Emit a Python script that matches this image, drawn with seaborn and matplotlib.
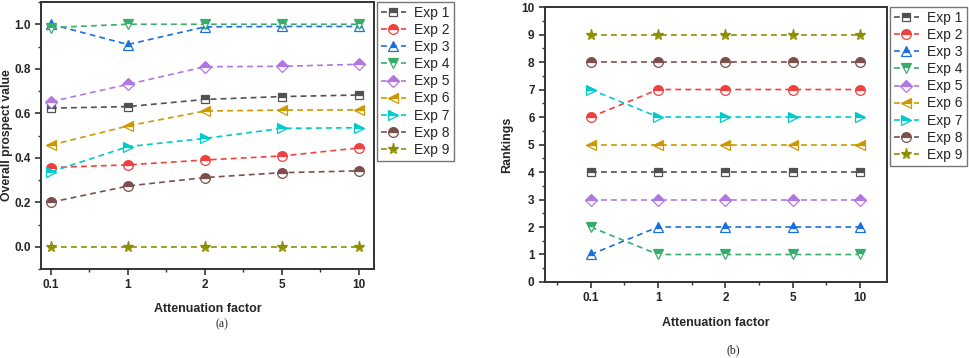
import numpy as np
import pandas as pd
import seaborn as sns
import matplotlib.pyplot as plt
from matplotlib.ticker import MultipleLocator

# 数据
factors = ['0.1', '1', '2', '5', '10']
exps = ['Exp 1', 'Exp 2', 'Exp 3', 'Exp 4', 'Exp 5', 'Exp 6', 'Exp 7', 'Exp 8', 'Exp 9']

# (a) overall prospect value
prospect_1 = [0.623, 0.630, 0.662, 0.675, 0.682]
prospect_2 = [0.356, 0.368, 0.390, 0.408, 0.444]
prospect_3 = [1.000, 0.909, 0.988, 0.990, 0.990]
prospect_4 = [0.985, 1.000, 1.000, 1.000, 1.000]
prospect_5 = [0.652, 0.730, 0.809, 0.811, 0.820]
prospect_6 = [0.457, 0.543, 0.610, 0.614, 0.615]
prospect_7 = [0.337, 0.450, 0.487, 0.532, 0.535]
prospect_8 = [0.200, 0.273, 0.311, 0.333, 0.341]
prospect_9 = [0.000, 0.000, 0.000, 0.000, 0.000]

# (b) rankings
rank_1 = [4, 4, 4, 4, 4]
rank_2 = [6, 7, 7, 7, 7]
rank_3 = [1, 2, 2, 2, 2]
rank_4 = [2, 1, 1, 1, 1]
rank_5 = [3, 3, 3, 3, 3]
rank_6 = [5, 5, 5, 5, 5]
rank_7 = [7, 6, 6, 6, 6]
rank_8 = [8, 8, 8, 8, 8]
rank_9 = [9, 9, 9, 9, 9]

prospects = [prospect_1, prospect_2, prospect_3, prospect_4, prospect_5,
             prospect_6, prospect_7, prospect_8, prospect_9]
ranks = [rank_1, rank_2, rank_3, rank_4, rank_5, rank_6, rank_7, rank_8, rank_9]

# Origin 默认配色
colors = ['#515151', '#F14040', '#1A6FDF', '#37AD6B', '#B177DE',
          '#CC9900', '#00CBCC', '#7D4E4E', '#8E8E00']
markers = ['s', 'o', '^', 'v', 'D', '<', '>', 'o', '*']
msizes = [6.0, 7.0, 7.0, 7.0, 6.0, 7.0, 7.0, 7.0, 8.0]


def make_long(values):
    rows = []
    for name, vals in zip(exps, values):
        for i, v in enumerate(vals):
            rows.append({'exp': name, 'pos': i, 'factor': factors[i], 'value': v})
    return pd.DataFrame(rows)


df_a = make_long(prospects)
df_b = make_long(ranks)

sns.set_style('white')
plt.rcParams['font.family'] = ['Liberation Sans', 'DejaVu Sans']

fig = plt.figure(figsize=(9.69, 3.58), dpi=100)
ax_a = fig.add_axes([0.0423, 0.2486, 0.3437, 0.7458])
ax_b = fig.add_axes([0.5624, 0.2123, 0.3530, 0.7681])


def draw(ax, df):
    for k, name in enumerate(exps):
        sub = df[df['exp'] == name]
        # 上半实心的标记
        sns.lineplot(data=sub, x='pos', y='value', ax=ax, color=colors[k],
                     linestyle=(0, (3.5, 2.5)), linewidth=1.2, marker=markers[k],
                     markersize=msizes[k], fillstyle='top', markerfacecoloralt='white',
                     markeredgecolor=colors[k], markeredgewidth=0.9, label=name)
    ax.set_xticks(range(len(factors)))
    ax.set_xticklabels(factors)
    ax.xaxis.set_minor_locator(MultipleLocator(0.5))
    for s in ax.spines.values():
        s.set_color('#333333')
        s.set_linewidth(1.4)
    ax.tick_params(axis='both', which='major', direction='out', length=4, width=1.2,
                   color='#333333', labelsize=8.5, bottom=True, left=True)
    ax.tick_params(axis='both', which='minor', direction='out', length=2.5, width=1.0,
                   color='#333333', bottom=True, left=True)
    for lab in ax.get_xticklabels() + ax.get_yticklabels():
        lab.set_fontweight('bold')
    leg = ax.legend(loc='upper left', bbox_to_anchor=(1.008, 1.0), borderaxespad=0,
                    fontsize=10, frameon=True, fancybox=False, handlelength=1.8,
                    handletextpad=0.6, labelspacing=0.22, borderpad=0.3)
    leg.get_frame().set_edgecolor('#555555')
    leg.get_frame().set_linewidth(1.0)


draw(ax_a, df_a)
ax_a.set_xlim(-0.13, 4.2)
ax_a.set_ylim(-0.1, 1.1)
ax_a.yaxis.set_major_locator(MultipleLocator(0.2))
ax_a.yaxis.set_minor_locator(MultipleLocator(0.1))
ax_a.set_yticklabels([f'{t:.1f}' for t in ax_a.get_yticks()], fontweight='bold')
ax_a.set_xlabel('Attenuation factor', fontsize=9, fontweight='bold', labelpad=8)
ax_a.set_ylabel('Overall prospect value', fontsize=8.8, fontweight='bold', labelpad=1)

draw(ax_b, df_b)
ax_b.set_xlim(-0.68, 4.4)
ax_b.set_ylim(0, 10)
ax_b.yaxis.set_major_locator(MultipleLocator(1))
ax_b.yaxis.set_minor_locator(MultipleLocator(0.5))
ax_b.set_xlabel('Attenuation factor', fontsize=9, fontweight='bold', labelpad=9)
ax_b.set_ylabel('Rankings', fontsize=9, fontweight='bold', labelpad=6)

fig.text(222 / 969, 1 - 324 / 358, '(a)', ha='center', va='center',
         fontsize=8.5, family='Liberation Serif')
fig.text(733 / 969, 1 - 350 / 358, '(b)', ha='center', va='center',
         fontsize=8.5, family='Liberation Serif')

fig.savefig('out.png', dpi=100)
